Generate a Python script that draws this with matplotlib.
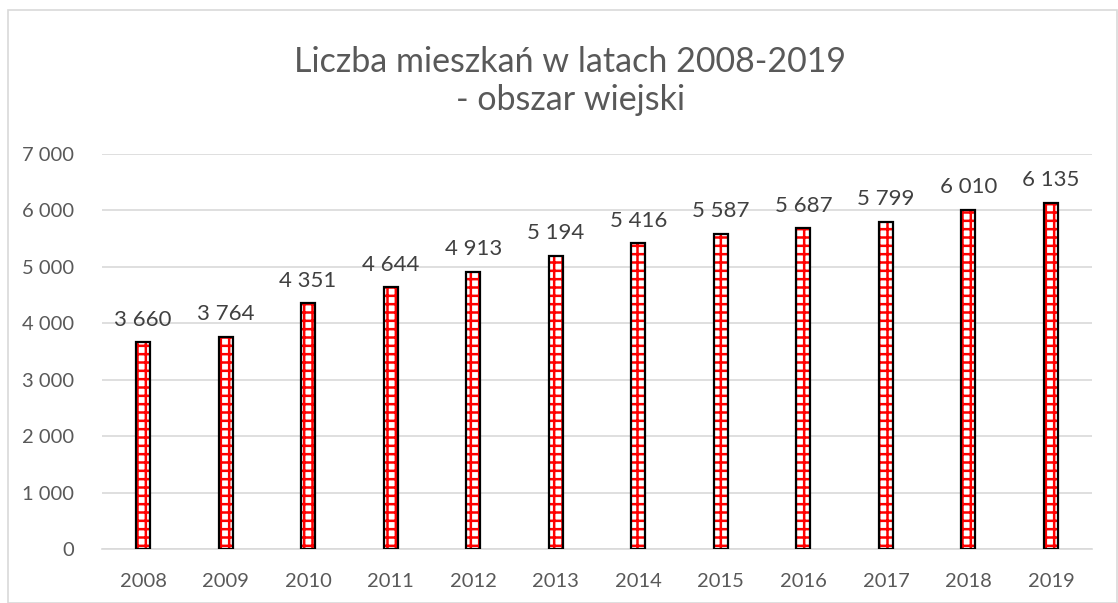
import matplotlib
matplotlib.use("Agg")
import matplotlib.pyplot as plt
from matplotlib.ticker import FuncFormatter, MultipleLocator
from matplotlib.patches import Rectangle

years = ["2008", "2009", "2010", "2011", "2012", "2013", "2014", "2015", "2016", "2017", "2018", "2019"]
values = [3660, 3764, 4351, 4644, 4913, 5194, 5416, 5587, 5687, 5799, 6010, 6135]
title = "Liczba mieszkań w latach 2008-2019\n- obszar wiejski"

plt.rcParams['font.family'] = ['Lato', 'DejaVu Sans']
plt.rcParams['hatch.linewidth'] = 1.8
txt = '#595959'

fig = plt.figure(figsize=(11.18, 6.03), dpi=100)
fig.patches.append(Rectangle((8/1118, 0), 1 - 8/1118 - 0.0005, 1 - 10/603, transform=fig.transFigure,
                             fill=False, edgecolor='#d9d9d9', linewidth=1.2))
ax = fig.add_axes([0.091, 0.0896, 0.886, 0.655])

x = range(len(years))
w = 0.17
ax.bar(x, values, width=w, color='white', edgecolor='red', hatch='++', linewidth=0, zorder=2)
ax.bar(x, values, width=w, fill=False, edgecolor='black', linewidth=1.6, zorder=3)

for i, v in enumerate(values):
    ax.text(i, v + 220, f"{v:,}".replace(",", " "), ha='center', va='bottom', fontsize=16, color='#404040')

ax.set_ylim(0, 7000)
ax.set_xlim(-0.5, len(years) - 0.5)
ax.yaxis.set_major_locator(MultipleLocator(1000))
ax.yaxis.set_major_formatter(FuncFormatter(lambda v, p: f"{int(v):,}".replace(",", " ")))
ax.set_xticks(list(x))
ax.set_xticklabels(years)
ax.grid(axis='y', color='#d9d9d9', linewidth=1.2, zorder=0)
ax.set_axisbelow(True)
for s in ['top', 'right', 'left']:
    ax.spines[s].set_visible(False)
ax.spines['bottom'].set_color('#d9d9d9')
ax.spines['bottom'].set_linewidth(1.2)
ax.tick_params(axis='both', length=0, labelsize=14.5, labelcolor=txt, pad=17)
ax.tick_params(axis='y', pad=20)

fig.text(0.51, 0.866, title, ha='center', va='center', fontsize=24.5, color=txt, linespacing=1.25)

fig.savefig("out.png", dpi=100)
